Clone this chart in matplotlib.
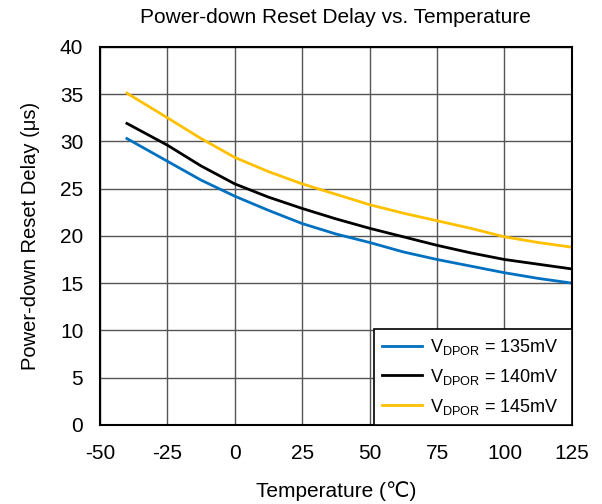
import matplotlib
matplotlib.use("Agg")
import matplotlib.pyplot as plt

plt.rcParams["font.family"] = ["Liberation Sans", "DejaVu Sans"]
plt.rcParams["mathtext.fontset"] = "custom"
plt.rcParams["mathtext.rm"] = "Liberation Sans"
plt.rcParams["axes.unicode_minus"] = False

# Data
temp = [-40, -25, -12.5, 0, 12.5, 25, 37.5, 50, 62.5, 75, 87.5, 100, 112.5, 125]
delay_135 = [30.3, 27.9, 25.9, 24.2, 22.7, 21.3, 20.2, 19.3, 18.3, 17.5, 16.8, 16.1, 15.5, 15.0]
delay_140 = [31.9, 29.6, 27.4, 25.5, 24.1, 22.9, 21.8, 20.8, 19.9, 19.0, 18.2, 17.5, 17.0, 16.5]
delay_145 = [35.1, 32.5, 30.3, 28.3, 26.8, 25.5, 24.4, 23.3, 22.4, 21.6, 20.8, 19.9, 19.3, 18.8]

series = [
    (delay_135, "#0070C0", r"V$_{\mathrm{DPOR}}$ = 135mV  "),
    (delay_140, "black", r"V$_{\mathrm{DPOR}}$ = 140mV  "),
    (delay_145, "#FFC000", r"V$_{\mathrm{DPOR}}$ = 145mV  "),
]

fig = plt.figure(figsize=(6.02, 5.04), dpi=100)
ax = fig.add_axes([0.166, 0.157, 0.784, 0.750])

for vals, col, lab in series:
    ax.plot(temp, vals, color=col, linewidth=2, label=lab)

ax.set_xlim(-50, 125)
ax.set_ylim(0, 40)
ax.set_xticks(range(-50, 126, 25))
ax.set_yticks(range(0, 41, 5))
ax.grid(True, color="#555555", linewidth=1)
ax.set_axisbelow(True)
ax.tick_params(length=0, labelsize=15)
ax.tick_params(axis="x", pad=14)
ax.tick_params(axis="y", pad=12)
for sp in ax.spines.values():
    sp.set_color("black")
    sp.set_linewidth(1.5)

ax.set_xlabel("Temperature (\u2103)", fontsize=15, labelpad=13)
ax.set_ylabel("Power-down Reset Delay (\u03bcs)", fontsize=14.5, labelpad=14)
ax.set_title("Power-down Reset Delay vs. Temperature", fontsize=15, pad=17)

leg = ax.legend(loc="lower right", fontsize=13, fancybox=False, framealpha=1,
                edgecolor="black", handlelength=2.2, handletextpad=0.45,
                borderaxespad=0, borderpad=0.45, labelspacing=0.55)
leg.get_frame().set_linewidth(1.2)

fig.savefig("out.png", dpi=100)
